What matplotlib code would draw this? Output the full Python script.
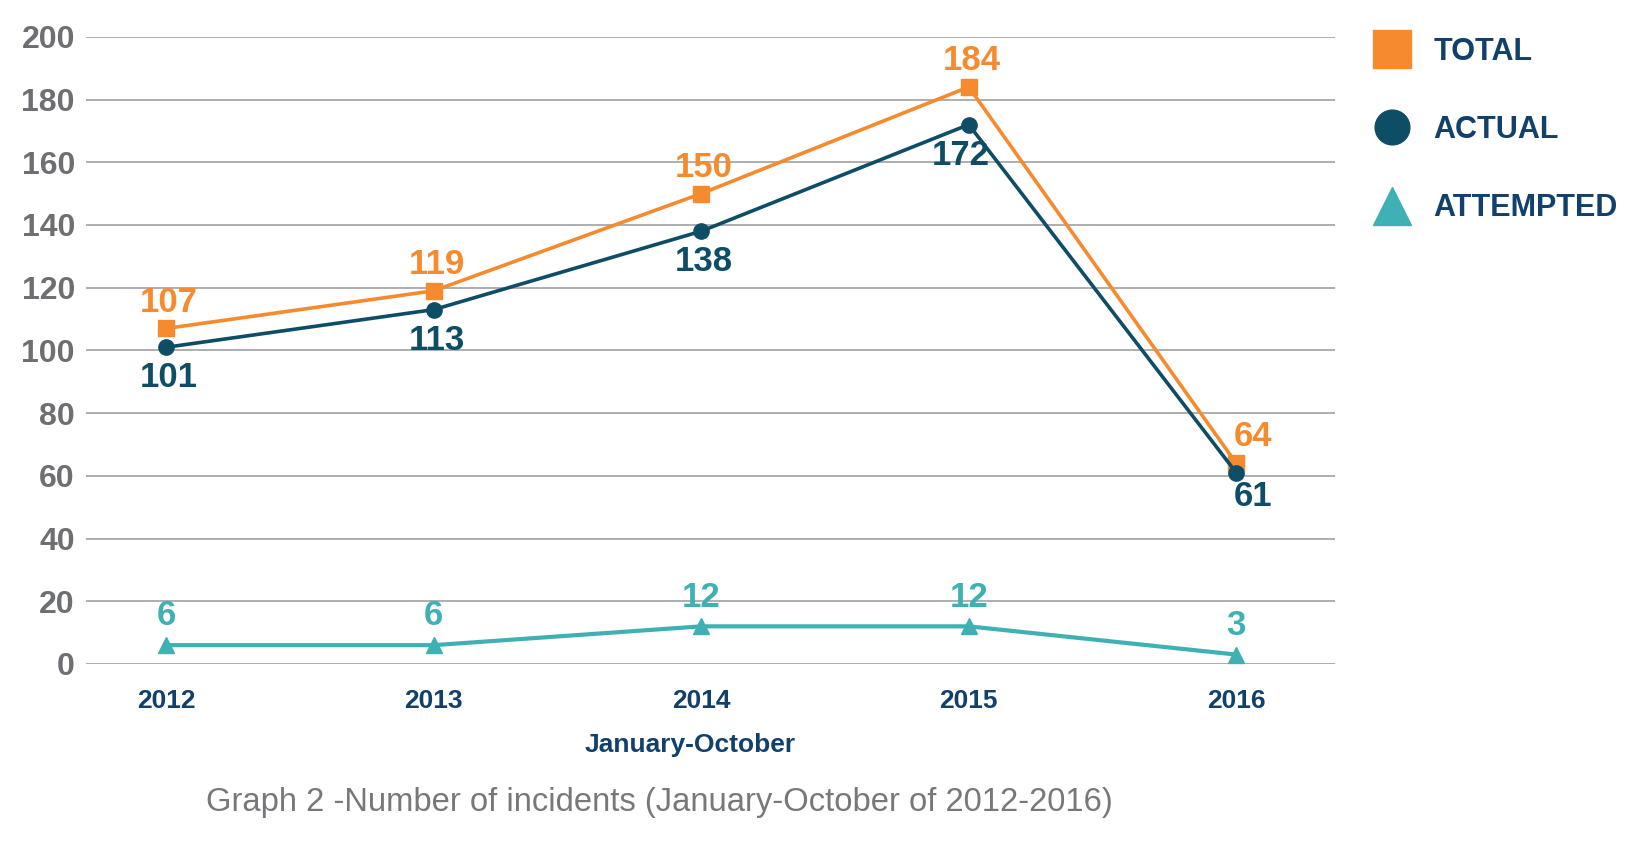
import matplotlib
matplotlib.use("Agg")
import matplotlib.pyplot as plt
from matplotlib.lines import Line2D

years = ["2012", "2013", "2014", "2015", "2016"]
total = [107, 119, 150, 184, 64]
actual = [101, 113, 138, 172, 61]
attempted = [6, 6, 12, 12, 3]

ORANGE = "#F58A2E"
DARK = "#0E4D66"
TEAL = "#3FB0B4"
NAVY = "#11406B"
GREY = "#6E6F72"

plt.rcParams['font.family'] = ['Liberation Sans', 'DejaVu Sans']

fig = plt.figure(figsize=(16.48, 8.44), dpi=100)
ax = fig.add_axes([0.0522, 0.2133, 0.758, 0.7431])

x = list(range(len(years)))
ax.plot(x, total, color=ORANGE, lw=2.6, marker='s', ms=11, clip_on=False, zorder=3)
ax.plot(x, actual, color=DARK, lw=2.6, marker='o', ms=11, clip_on=False, zorder=4)
ax.plot(x, attempted, color=TEAL, lw=3.0, marker='^', ms=11, clip_on=False, zorder=3)

lbl = dict(ha='center', va='center', fontsize=25, fontweight='bold',
           textcoords='offset points', annotation_clip=False)
for i, v in enumerate(total):
    dx = 12 if i == 4 else 2
    ax.annotate(str(v), (i, v), xytext=(dx, 19), color=ORANGE, **lbl)
for i, v in enumerate(actual):
    dx = 12 if i == 4 else 2
    dy = -17 if i == 4 else -22
    if i == 3:
        dx = -6
    ax.annotate(str(v), (i, v), xytext=(dx, dy), color=DARK, **lbl)
for i, v in enumerate(attempted):
    ax.annotate(str(v), (i, v), xytext=(0, 21), color=TEAL, **lbl)

ax.set_xlim(-0.3, 4.37)
ax.set_ylim(0, 200)
ax.set_yticks(range(0, 201, 20))
ax.set_xticks(x)
ax.set_xticklabels(years)
ax.grid(axis='y', color='#A8A8A8', lw=1.3)
ax.set_axisbelow(True)
for s in ax.spines.values():
    s.set_visible(False)
ax.tick_params(axis='both', length=0)
ax.tick_params(axis='y', labelsize=23, labelcolor=GREY, pad=8)
ax.tick_params(axis='x', labelsize=19, labelcolor=NAVY, pad=18)
for t in ax.get_yticklabels() + ax.get_xticklabels():
    t.set_fontweight('bold')

fig.text(0.419, 1 - 745 / 844, "January-October", ha='center', va='center',
         fontsize=19, fontweight='bold', color=NAVY)
fig.text(0.400, 1 - 802 / 844, "Graph 2 -Number of incidents (January-October of 2012-2016)",
         ha='center', va='center', fontsize=23.6, color='#77787B')

handles = [
    Line2D([], [], color=ORANGE, marker='s', ms=27, ls='none'),
    Line2D([], [], color=DARK, marker='o', ms=25, ls='none'),
    Line2D([], [], color=TEAL, marker='^', ms=27, ls='none'),
]
leg = fig.legend(handles, ["TOTAL", "ACTUAL", "ATTEMPTED"], loc='upper left',
                 bbox_to_anchor=(0.817, 0.989), frameon=False, labelspacing=1.58,
                 handletextpad=0.75, handlelength=1.2,
                 prop={'size': 22, 'weight': 'bold'})
for t in leg.get_texts():
    t.set_color(NAVY)

fig.savefig("out.png", dpi=100)
